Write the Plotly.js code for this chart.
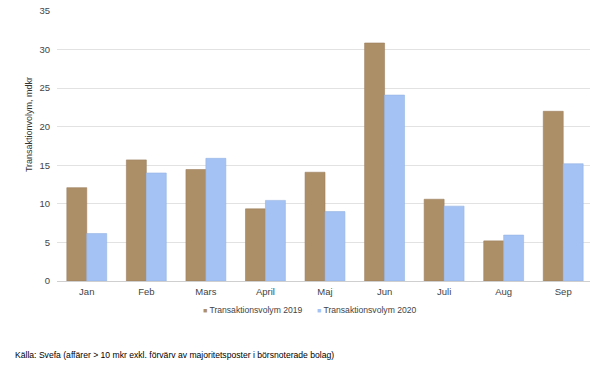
<!DOCTYPE html>
<html>
<head>
<meta charset="utf-8">
<script src="https://cdn.plot.ly/plotly-3.0.1.min.js"></script>
<style>
html,body{margin:0;padding:0;background:#fff;overflow:hidden;}
#chart{width:593px;height:365px;}
</style>
</head>
<body>
<div id="chart"></div>
<script>
const months = ["Jan","Feb","Mars","April","Maj","Jun","Juli","Aug","Sep"];
const vol2019 = [12.1, 15.7, 14.45, 9.35, 14.1, 30.85, 10.6, 5.2, 22.0];
const vol2020 = [6.15, 14.0, 15.9, 10.45, 9.0, 24.1, 9.7, 5.95, 15.2];
const seriesNames = ["Transaktionsvolym 2019", "Transaktionsvolym 2020"];
const yTicks = [0, 5, 10, 15, 20, 25, 30, 35];
const yTitle = "Transaktionvolym, mdkr";
const sourceText = "Källa: Svefa (affärer > 10 mkr exkl. förvärv av majoritetsposter i börsnoterade bolag)";

const c2019 = "#ad8f67";
const c2020 = "#a4c2f4";
const font = "Liberation Sans, Arial, sans-serif";

const traces = [
  {type:"bar", x:months, y:vol2019, name:seriesNames[0],
   marker:{color:c2019, line:{color:"#9c8060", width:0.6}}, hoverinfo:"none"},
  {type:"bar", x:months, y:vol2020, name:seriesNames[1],
   marker:{color:c2020, line:{color:"#95b3e3", width:0.6}}, hoverinfo:"none"}
];

function legendText(color, name){
  return '<span style="color:'+color+';font-size:7px">■</span> '+name;
}

const layout = {
  width:593, height:365,
  margin:{l:57, r:0, t:11, b:84},
  paper_bgcolor:"#fff", plot_bgcolor:"#fff",
  barmode:"group", bargap:0.33, bargroupgap:0,
  showlegend:false,
  font:{family:font, size:9, color:"#444"},
  xaxis:{type:"category", showgrid:false, zeroline:false, showline:false,
         ticks:"", tickfont:{size:9.5, color:"#444"}, ticklabelstandoff:3},
  yaxis:{range:[0,35], tickvals:yTicks, ticktext:yTicks.map(String),
         showgrid:true, gridcolor:"#e2e2e2", gridwidth:1,
         zeroline:true, zerolinecolor:"#cfcfcf", zerolinewidth:1,
         showline:false, ticks:"", tickfont:{size:9.5, color:"#444"},
         ticklabelstandoff:6},
  annotations:[
    {xref:"paper", yref:"paper", x:-0.052, y:0.578, xanchor:"center", yanchor:"middle",
     text:yTitle, textangle:-90, showarrow:false, font:{size:9, color:"#333"}},
    {xref:"paper", yref:"paper", x:0.268, y:-0.108, xanchor:"left", yanchor:"middle",
     text:legendText(c2019, seriesNames[0]), showarrow:false,
     font:{size:8.6, color:"#444"}},
    {xref:"paper", yref:"paper", x:0.482, y:-0.108, xanchor:"left", yanchor:"middle",
     text:legendText(c2020, seriesNames[1]), showarrow:false,
     font:{size:8.6, color:"#444"}},
    {xref:"paper", yref:"paper", x:-0.083, y:-0.274, xanchor:"left", yanchor:"middle",
     text:sourceText, showarrow:false, font:{size:8.6, color:"#000"}}
  ]
};

Plotly.newPlot("chart", traces, layout, {displayModeBar:false, staticPlot:true});
</script>
</body>
</html>
